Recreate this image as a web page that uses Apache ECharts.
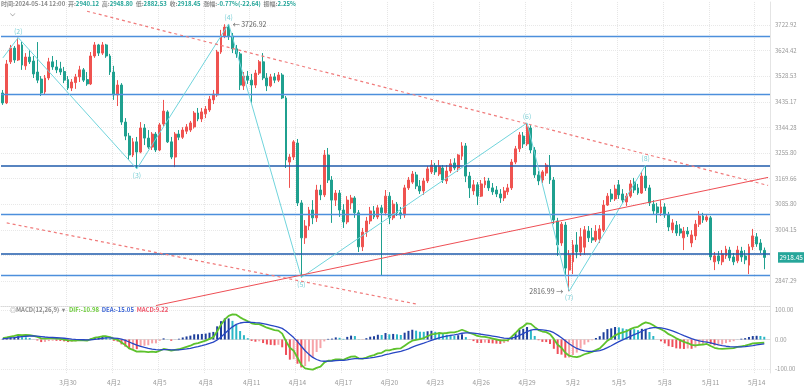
<!DOCTYPE html>
<html><head><meta charset="utf-8">
<script src="https://cdn.jsdelivr.net/npm/echarts@6/dist/echarts.min.js"></script>
<style>html,body{margin:0;padding:0;background:#fff}#c{width:804px;height:390px}</style>
</head><body><div id="c"></div>
<script>
// ===== DATA (6h candles, first = 2024-03-25 18:00) =====
const opens = [3467,3431,3582,3634,3589,3646,3567,3600,3585,3544,3518,3471,3522,3582,3563,3556,3546,3516,3485,3505,3526,3552,3516,3500,3604,3646,3615,3646,3604,3544,3460,3496,3363,3314,3249,3294,3259,3342,3307,3276,3321,3266,3356,3399,3294,3242,3321,3310,3331,3335,3346,3395,3374,3392,3406,3442,3460,3619,3680,3715,3680,3631,3612,3493,3529,3514,3496,3540,3582,3522,3493,3526,3514,3533,3449,3225,3242,3290,3090,2979,3016,3067,3042,3132,3116,3249,3165,3099,3122,3067,3029,3090,3106,3058,2951,2997,3032,3064,3045,3074,3058,3112,3042,3086,3058,3051,3139,3158,3182,3145,3129,3162,3192,3212,3185,3205,3162,3195,3222,3205,3245,3280,3178,3129,3149,3112,3149,3162,3139,3132,3119,3106,3126,3139,3225,3270,3314,3287,3342,3266,3182,3165,3188,3212,3165,3032,2963,3019,2880,2905,2957,2935,2950,3000,2979,2972,2975,3003,3083,3119,3103,3149,3119,3093,3112,3158,3139,3122,3178,3139,3086,3077,3058,3077,3051,3004,3019,3007,2979,3000,2963,2985,3022,3048,3035,3042,2905,2923,2905,2923,2941,2920,2908,2938,2923,2895,2951,2982,2963,2940.12];
const closes = [3431,3574,3634,3589,3646,3570,3600,3582,3537,3514,3467,3522,3582,3563,3552,3544,3514,3485,3507,3526,3552,3514,3500,3604,3646,3615,3646,3604,3544,3460,3496,3363,3314,3249,3294,3259,3342,3307,3276,3321,3266,3353,3402,3294,3242,3321,3310,3335,3346,3360,3395,3374,3399,3409,3445,3463,3619,3684,3715,3680,3631,3612,3496,3529,3514,3496,3540,3582,3522,3493,3526,3514,3533,3449,3232,3242,3294,3090,2979,3016,3067,3042,3132,3116,3249,3165,3099,3122,3067,3029,3099,3106,3058,2951,2997,3032,3064,3045,3074,3058,3112,3042,3086,3058,3051,3139,3165,3185,3145,3129,3162,3202,3215,3192,3212,3165,3195,3219,3205,3249,3280,3178,3139,3149,3112,3152,3162,3139,3126,3119,3106,3129,3139,3225,3270,3318,3287,3346,3266,3182,3162,3192,3215,3165,3035,2957,3022,2886,2926,2957,2935,2982,3004,2979,2972,3000,3007,3083,3112,3103,3135,3116,3099,3112,3152,3132,3122,3178,3139,3090,3064,3058,3077,3051,3013,3026,2994,2994,3000,2991,2988,3022,3048,3035,3045,2920,2923,2908,2929,2944,2917,2905,2941,2920,2911,2951,2985,2960,2941,2918.45];
const lows = [3424,3427,3574,3578,3585,3552,3552,3574,3522,3503,3456,3463,3514,3552,3540,3533,3503,3478,3474,3482,3507,3507,3493,3496,3597,3604,3608,3597,3533,3442,3420,3353,3300,3232,3242,3202,3255,3283,3270,3266,3259,3262,3349,3290,3235,3208,3300,3304,3321,3328,3340,3366,3363,3377,3399,3427,3453,3612,3672,3665,3615,3597,3478,3478,3500,3431,3485,3533,3514,3474,3488,3503,3507,3445,3205,3139,3232,3080,2858,2960,3003,3022,3029,3099,3109,3155,3026,3080,3045,3010,3022,3070,3042,2935,2938,2982,3022,3038,3038,2865,3050,3022,3035,3048,3038,3042,3132,3152,3135,3119,3116,3155,3185,3182,3178,3155,3152,3188,3198,3192,3232,3158,3106,3116,3083,3109,3139,3129,3116,3109,3090,3096,3116,3132,3218,3259,3273,3280,3255,3172,3148,3155,3178,3152,3022,2923,2954,2865,2816.99,2868,2916,2923,2926,2966,2963,2966,2963,2997,3080,3093,3096,3103,3090,3080,3106,3122,3116,3119,3129,3080,3054,3026,3048,3042,3000,2994,2985,2985,2941,2982,2950,2972,3013,3026,3029,2910,2880,2898,2895,2914,2908,2895,2901,2905,2898,2868,2941,2951,2932,2882.53];
const highs = [3478,3589,3646,3642,3674,3657,3615,3627,3604,3657,3529,3533,3597,3604,3589,3582,3563,3529,3518,3537,3567,3559,3544,3619,3657,3650,3657,3650,3612,3567,3514,3503,3377,3325,3307,3311,3363,3356,3335,3328,3328,3360,3442,3405,3311,3328,3335,3345,3356,3367,3402,3413,3413,3420,3456,3478,3627,3704,3726,3726.92,3692,3646,3619,3544,3548,3537,3552,3589,3615,3540,3537,3540,3544,3540,3456,3252,3300,3304,3099,3035,3077,3099,3149,3149,3266,3273,3178,3132,3132,3086,3112,3116,3112,3067,3010,3045,3077,3080,3083,3083,3132,3125,3099,3093,3077,3149,3175,3195,3192,3165,3172,3212,3232,3222,3232,3215,3215,3235,3238,3252,3293,3290,3192,3165,3158,3165,3175,3172,3155,3145,3135,3142,3152,3235,3280,3328,3328,3360,3352,3276,3195,3198,3222,3249,3175,3042,3029,3029,2941,2972,2997,3010,3016,3016,3010,3019,3019,3099,3122,3135,3149,3165,3135,3122,3165,3172,3152,3192,3215,3149,3099,3090,3099,3089,3061,3038,3032,3022,3013,3013,3003,3035,3064,3058,3054,3048,2935,2938,2941,2954,2951,2932,2954,2951,2941,2960,3007,2994,2975,2948.80];

// price-axis ticks (log spaced) and x-axis tick labels
const yTickValues = [2847.29, 3004.15, 3085.80, 3169.66, 3255.80, 3344.28, 3435.17, 3528.53, 3624.42, 3722.92];
const yGridValues = [2847.29, 2924.67, 3004.15, 3085.80, 3169.66, 3255.80, 3344.28, 3435.17, 3528.53, 3624.42, 3722.92];
const macdTickValues = [-100, 0, 100];
const xTickLabels = ['3月30','4月2','4月5','4月8','4月11','4月14','4月17','4月20','4月23','4月26','4月29','5月2','5月5','5月8','5月11','5月14'];

// horizontal support / resistance levels
const levelPrices = [3677.7, 3462.3, 3214.2, 3054.3, 2931.1, 2864.3];
// wave pivots: candle index, price, tag
const waveIndex = [0, 4, 35, 59, 78, 137, 148, 168];
const wavePrices = [3597, 3674, 3202, 3726.92, 2858, 3360, 2816.99, 3215];
const waveTags = ['', '(2)', '(3)', '(4)', '(5)', '(6)', '(7)', '(8)'];
// trend lines (candle index, price) pairs
const upperChannel = [[22, 3777], [200, 3147]];
const lowerChannel = [[1, 3026], [108, 2779.5]];
const risingLine = [[40, 2775], [200, 3173.7]];
const lastPrice = 2918.45;

// MACD(12,26,9)
const difValues = [5,7,10,12,16,15,16,15,12,9,4,3,4,4,3,2,0,-3,-4,-4,-2,-3,-4,1,6,8,11,11,8,2,-1,-10,-19,-30,-35,-41,-40,-41,-43,-41,-43,-38,-32,-34,-38,-35,-33,-29,-25,-21,-15,-12,-8,-4,2,8,28,50,68,80,85,84,75,68,62,55,52,52,46,40,36,32,30,20,-6,-28,-38,-62,-86,-98,-100,-102,-96,-92,-78,-72,-71,-67,-67,-69,-63,-58,-57,-64,-65,-61,-56,-53,-47,-45,-37,-37,-33,-31,-30,-21,-12,-4,-1,1,5,11,17,19,22,21,22,24,24,28,33,28,22,18,12,10,9,6,3,0,-3,-3,-2,10,22,36,44,55,53,42,32,27,25,18,2,-18,-28,-45,-55,-58,-60,-56,-50,-46,-42,-36,-30,-17,-4,4,14,20,24,28,35,40,43,52,58,55,48,40,35,28,18,12,4,-2,-8,-12,-18,-20,-18,-17,-15,-22,-28,-31,-32,-31,-30,-29,-25,-23,-21,-17,-13,-12,-11.5,-10.98];
const deaValues = [3,3.8,5.2,6.6,8.5,9.8,11,11.8,11.8,11.2,9.8,8.4,7.5,6.8,6,5.2,4.2,2.8,1.4,0.3,-0.2,-0.8,-1.4,-0.9,0.5,2,3.8,5.2,5.8,5,3.8,1,-3,-8.4,-13.7,-19.2,-23.4,-26.9,-30.1,-32.3,-34.4,-35.1,-34.5,-34.4,-35.1,-35.1,-34.7,-33.6,-31.9,-29.7,-26.8,-23.8,-20.6,-17.3,-13.4,-9.1,-1.7,8.6,20.5,32.4,42.9,51.1,55.9,58.3,59,58.2,57,56,54,51.2,48.2,45,42,37.6,28.9,17.5,6.4,-7.3,-23,-38,-50.4,-60.7,-67.8,-72.6,-73.7,-73.4,-72.9,-71.7,-70.8,-70.4,-68.9,-66.7,-64.8,-64.6,-64.6,-63.9,-62.3,-60.4,-57.7,-55.2,-51.6,-48.7,-45.6,-42.7,-40.2,-36.4,-31.5,-26,-21,-16.6,-12.3,-7.6,-2.7,1.6,5.7,8.8,11.4,13.9,15.9,18.3,21.2,22.6,22.5,21.6,19.7,17.8,16,14,11.8,9.4,6.9,4.9,3.5,4.8,8.2,13.8,19.8,26.8,32,34,33.6,32.3,30.8,28.2,23,14.8,6.2,-4,-14.2,-23,-30.4,-35.5,-38.4,-39.9,-40.3,-39.4,-37.5,-33.4,-27.5,-21.2,-14.2,-7.4,-1.1,4.7,10.8,16.6,21.9,27.9,33.9,38.1,40.1,40.1,39.1,36.9,33.1,28.9,23.9,18.7,13.4,8.3,3,-1.6,-4.9,-7.3,-8.8,-11.4,-14.7,-18,-20.8,-22.8,-24.2,-25.2,-25.2,-24.8,-24,-22.6,-20.7,-18.3,-16.6,-15.05];
const macdValues = [3,4.8,7.2,8.1,11.3,7.8,7.5,4.8,0.3,-3.3,-8.7,-8.1,-5.3,-4.2,-4.5,-4.8,-6.3,-8.7,-8.1,-6.5,-2.7,-3.3,-3.9,2.9,8.3,9,10.8,8.7,3.3,-4.5,-7.2,-16.5,-24,-32.4,-32,-32.7,-24.9,-21.2,-19.4,-13.1,-12.9,-4.4,3.8,0.6,-4.4,0.2,2.6,6.9,10.4,13.1,17.7,17.7,18.9,20,23.1,25.7,44.6,62.1,71.3,71.4,63.2,49.4,28.7,14.6,4.5,-4.8,-7.5,-6,-12,-16.8,-18.3,-19.5,-18,-26.4,-52.4,-68.3,-66.6,-82.1,-94.5,-90,-74.4,-62,-42.3,-29.1,-6.5,2.1,2.9,7.1,5.7,2.1,8.9,13.1,11.7,0.9,-0.6,4.4,9.5,11.1,16.1,15.3,21.9,17.6,18.9,17.6,15.3,23.1,29.3,33,30,26.4,26,27.9,29.6,26.1,24.5,18.3,15.9,15.2,12.2,14.6,17.7,8.1,-0.8,-5.4,-11.6,-11.7,-10.5,-12,-13.2,-14.1,-14.9,-11.9,-8.3,7.8,20.7,33.3,36.3,42.3,31.5,12,-2.4,-8,-8.7,-15.3,-31.5,-49.2,-51.3,-61.5,-61.2,-52.5,-44.4,-30.8,-17.4,-9.2,-2.6,5.1,11.3,24.6,35.3,37.8,42.3,41.1,37.7,35,36.3,35.1,31.7,36.2,36.2,25.4,11.9,-0.2,-6.2,-13.4,-22.7,-25.4,-29.9,-31.1,-32.1,-30.5,-31.5,-27.6,-19.7,-14.6,-9.3,-15.9,-20,-19.5,-16.8,-12.3,-8.7,-5.7,0.3,2.7,4.5,8.4,11.6,12.5,11.8,9.22];

// ===== CHART =====
const UP = '#ef5350', DOWN = '#1fa08f';
const N = opens.length;
const cats = [];
const t0 = Date.UTC(2024, 2, 25, 18);
for (let i = 0; i <= N; i++) {
  const d = new Date(t0 + i * 6 * 3600e3);
  cats.push((d.getUTCMonth() + 1) + '-' + d.getUTCDate() + ' ' + String(d.getUTCHours()).padStart(2, '0') + ':00');
}
const tickStart = 17, tickStep = 12;
const isTick = (idx) => idx >= tickStart && (idx - tickStart) % tickStep === 0;

const candleData = opens.map((o, i) => [o, closes[i], lows[i], highs[i]]);

const darkLevels = [2, 4];
const levelLines = levelPrices.map((p, i) => ({
  yAxis: p,
  lineStyle: { color: darkLevels.includes(i) ? '#1f5bab' : '#4d8fdc', width: darkLevels.includes(i) ? 1.6 : 1.4, type: 'solid' },
  label: { show: false }
}));
levelLines.push({
  yAxis: lastPrice,
  lineStyle: { color: 'rgba(0,0,0,0)', width: 1 },
  label: { show: true, position: 'end', distance: 8, formatter: lastPrice.toFixed(2), color: '#fff',
    backgroundColor: '#26a69a', padding: [2, 1.5, 2, 1.5], fontSize: 6.5 }
});

const peakSet = [1, 3, 5, 7];
const waveLabelData = waveIndex.map((idx, k) => ({
  value: [idx, wavePrices[k]],
  label: { show: waveTags[k] !== '', formatter: waveTags[k], position: peakSet.includes(k) ? 'top' : 'bottom', distance: 2 }
}));
const priceTags = [
  { value: [waveIndex[3], wavePrices[3]], label: { show: true, position: 'right', distance: 3, formatter: '← ' + wavePrices[3].toFixed(2) } },
  { value: [waveIndex[6], wavePrices[6]], label: { show: true, position: 'left', distance: 5, formatter: wavePrices[6].toFixed(2) + ' →' } }
];

const macdBars = macdValues.map((v, i) => {
  const prev = i > 0 ? macdValues[i - 1] : v;
  let c;
  if (v >= 0) c = v >= prev ? '#1e3f9c' : '#2bb7c6';
  else c = v <= prev ? '#ef4f5a' : '#f6a3a8';
  return { value: v, itemStyle: { color: c } };
});

const FONT = "'Noto Sans CJK SC','Noto Sans',sans-serif";
const gray = '#8c8c8c', green = '#26a69a';
const hdr = '{g|时间:2024-05-14 12:00}  {g|开:}{v|' + opens[N-1].toFixed(2) + '}  {g|高:}{v|' + highs[N-1].toFixed(2) +
  '}  {g|低:}{v|' + lows[N-1].toFixed(2) + '}  {g|收:}{v|' + closes[N-1].toFixed(2) + '}  {g|涨幅:}{v|-0.77%(-22.64)}  {g|振幅:}{v|2.25%}';
const transparent = 'rgba(0,0,0,0)';

const option = {
  animation: false,
  textStyle: { fontFamily: FONT },
  title: [
    { text: hdr, left: 1, top: 1, padding: 0, textStyle: { fontSize: 6, rich: { g: { color: gray, fontSize: 6, fontFamily: FONT }, v: { color: green, fontSize: 6, fontFamily: FONT } } } },
    { text: '{i|⌵}', left: 10, top: 10, padding: 0, textStyle: { rich: { i: { color: '#999', fontSize: 7 } } } },
    { text: '{i|◎}{g|MACD(12,26,9)}  {g|▾}   {a|DIF:-10.98}  {b|DEA:-15.05}  {c|MACD:9.22}', left: 10, top: 307, padding: 0,
      textStyle: { fontSize: 6, rich: { i: { color: '#999', fontSize: 6, fontFamily: FONT }, g: { color: gray, fontSize: 6, fontFamily: FONT }, a: { color: '#6ccc3a', fontSize: 6 }, b: { color: '#3d66d6', fontSize: 6 }, c: { color: '#f0566a', fontSize: 6 } } } }
  ],
  grid: [
    { left: 1, right: 34, top: 2, height: 304 },
    { left: 1, right: 34, top: 306, height: 67 }
  ],
  xAxis: [
    { type: 'category', gridIndex: 0, data: cats, boundaryGap: true,
      axisLine: { show: true, lineStyle: { color: '#d8d8d8', type: 'dotted' } }, axisTick: { show: false }, axisLabel: { show: false },
      splitLine: { show: true, interval: (i) => isTick(i), lineStyle: { color: '#e6e6e6', type: 'dotted' } } },
    { type: 'category', gridIndex: 1, data: cats, boundaryGap: true,
      axisLine: { show: true, lineStyle: { color: '#dcdcdc' } }, axisTick: { show: false },
      axisLabel: { show: true, interval: (i) => isTick(i), formatter: (v, i) => xTickLabels[(i - tickStart) / tickStep], color: '#999', fontSize: 6.5, margin: 6 },
      splitLine: { show: true, interval: (i) => isTick(i), lineStyle: { color: '#e6e6e6', type: 'dotted' } } }
  ],
  yAxis: [
    { type: 'log', logBase: 10, gridIndex: 0, position: 'right', min: 2773.7, max: 3813.7,
      axisLine: { show: true, lineStyle: { color: '#e4e4e4' } },
      axisTick: { show: false, customValues: yGridValues },
      axisLabel: { customValues: yTickValues, formatter: (v) => Number(v).toFixed(2), color: '#999', fontSize: 6, margin: 5 },
      splitLine: { show: true, lineStyle: { color: '#e8e8e8', type: 'dotted' } } },
    { type: 'value', gridIndex: 1, position: 'right', min: -113.5, max: 113.5,
      axisLine: { show: true, lineStyle: { color: '#e4e4e4' } },
      axisTick: { show: false, customValues: macdTickValues },
      axisLabel: { customValues: macdTickValues, formatter: (v) => Number(v).toFixed(2), color: '#999', fontSize: 6, margin: 5 },
      splitLine: { show: true, lineStyle: { color: '#e8e8e8', type: 'dotted' } } }
  ],
  series: [
    { type: 'candlestick', xAxisIndex: 0, yAxisIndex: 0, data: candleData, barWidth: 2.4,
      itemStyle: { color: UP, color0: DOWN, borderColor: UP, borderColor0: DOWN, borderWidth: 1 },
      markLine: { silent: true, symbol: ['none', 'none'], data: levelLines, z: 5 } },
    { type: 'line', xAxisIndex: 0, yAxisIndex: 0, data: waveIndex.map((x, k) => [x, wavePrices[k]]),
      symbol: 'none', lineStyle: { color: '#70d4dc', width: 1 }, z: 6, silent: true },
    { type: 'line', xAxisIndex: 0, yAxisIndex: 0, data: upperChannel, symbol: 'none', z: 6, silent: true,
      lineStyle: { color: '#f07b7b', width: 1.2, type: [3, 3] } },
    { type: 'line', xAxisIndex: 0, yAxisIndex: 0, data: lowerChannel, symbol: 'none', z: 6, silent: true,
      lineStyle: { color: '#f07b7b', width: 1.2, type: [3, 3] } },
    { type: 'line', xAxisIndex: 0, yAxisIndex: 0, data: risingLine, symbol: 'none', z: 6, silent: true,
      lineStyle: { color: '#ee4f55', width: 1 } },
    { type: 'scatter', xAxisIndex: 0, yAxisIndex: 0, data: waveLabelData, symbolSize: 2, itemStyle: { color: transparent }, z: 7, silent: true,
      label: { color: '#5cc4cd', fontSize: 7 } },
    { type: 'scatter', xAxisIndex: 0, yAxisIndex: 0, data: priceTags, symbolSize: 2, itemStyle: { color: transparent }, z: 7, silent: true,
      label: { color: '#333', fontSize: 7 } },
    { type: 'bar', xAxisIndex: 1, yAxisIndex: 1, data: macdBars, barWidth: 2 },
    { type: 'line', xAxisIndex: 1, yAxisIndex: 1, data: difValues, symbol: 'none', lineStyle: { color: '#5dc22c', width: 1.8 } },
    { type: 'line', xAxisIndex: 1, yAxisIndex: 1, data: deaValues, symbol: 'none', lineStyle: { color: '#2746c4', width: 1.3 } }
  ]
};
const chart = echarts.init(document.getElementById('c'));
chart.setOption(option);
</script>
</body></html>
